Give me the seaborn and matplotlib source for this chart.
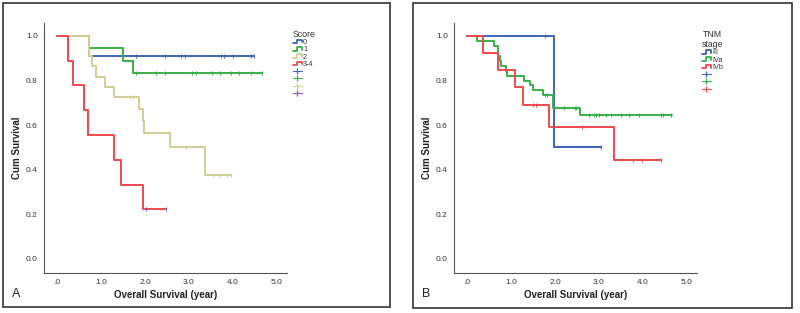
import numpy as np
import pandas as pd
import seaborn as sns
import matplotlib.pyplot as plt
from matplotlib.lines import Line2D
from matplotlib.patches import Rectangle
from matplotlib.legend_handler import HandlerBase

# ---- Panel A: Score ----
score_groups = ["0", "1", "2", "3-4"]
score_times = {
    "0": [0, 0.73, 4.49],
    "1": [0, 0.73, 1.50, 1.73, 4.66],
    "2": [0, 0.73, 0.80, 0.89, 1.09, 1.30, 1.87, 1.95, 1.98, 2.57, 3.36, 3.95],
    "3-4": [0, 0.25, 0.35, 0.61, 0.70, 1.30, 1.45, 1.95, 2.48],
}
score_surv = {
    "0": [1.0, 0.909, 0.909],
    "1": [1.0, 0.944, 0.889, 0.833, 0.833],
    "2": [1.0, 0.909, 0.864, 0.818, 0.773, 0.727, 0.673, 0.618, 0.564, 0.5, 0.375, 0.375],
    "3-4": [1.0, 0.889, 0.778, 0.667, 0.556, 0.444, 0.333, 0.222, 0.222],
}
score_censored = {
    "0": [1.80, 2.45, 2.82, 2.92, 3.73, 3.79, 3.99, 4.42, 4.48],
    "1": [1.80, 2.25, 2.45, 3.06, 3.17, 3.52, 3.70, 3.95, 4.14, 4.42, 4.65],
    "2": [1.66, 1.73, 2.93, 3.55, 3.70, 3.86, 3.95],
    "3-4": [2.03, 2.48],
}

# ---- Panel B: TNM stage ----
tnm_groups = ["III", "IVa", "IVb"]
tnm_times = {
    "III": [0, 1.98, 3.05],
    "IVa": [0, 0.22, 0.62, 0.70, 0.75, 0.78, 0.88, 0.90, 1.30, 1.42, 1.50, 1.72, 1.96, 2.57, 4.65],
    "IVb": [0, 0.36, 0.69, 1.09, 1.28, 1.86, 3.35, 4.41],
}
tnm_surv = {
    "III": [1.0, 0.5, 0.5],
    "IVa": [1.0, 0.978, 0.955, 0.911, 0.889, 0.867, 0.844, 0.822, 0.800, 0.778, 0.756, 0.733, 0.679, 0.645, 0.645],
    "IVb": [1.0, 0.923, 0.846, 0.769, 0.692, 0.593, 0.445, 0.445],
}
tnm_censored = {
    "III": [1.76, 3.05],
    "IVa": [1.77, 1.82, 2.21, 2.46, 2.48, 2.78, 2.89, 2.94, 3.00, 3.15, 3.27, 3.50, 3.69,
            3.92, 4.41, 4.46, 4.64],
    "IVb": [1.49, 1.57, 2.61, 3.77, 3.98, 4.41],
}

BLUE, GREEN, TAN, RED, PURPLE = "#3f63b8", "#3aaf48", "#d2ce98", "#ec4a4f", "#8e55b0"
score_colors = {"0": BLUE, "1": GREEN, "2": TAN, "3-4": RED}
score_cens_colors = {"0": BLUE, "1": GREEN, "2": TAN, "3-4": PURPLE}
tnm_colors = {"III": BLUE, "IVa": GREEN, "IVb": RED}

x_ticks = [0, 1, 2, 3, 4, 5]
x_labels = [".0", "1.0", "2.0", "3.0", "4.0", "5.0"]
y_ticks = [0, 0.2, 0.4, 0.6, 0.8, 1.0]
y_labels = ["0.0", "0.2", "0.4", "0.6", "0.8", "1.0"]


def long_frames(groups, times, surv, cens):
    curves, marks = [], []
    for g in groups:
        t = np.array(times[g]); s = np.array(surv[g])
        curves.append(pd.DataFrame({"time": t, "surv": s, "group": g}))
        c = np.array(cens[g])
        idx = np.searchsorted(t, c, side="right") - 1
        marks.append(pd.DataFrame({"time": c, "surv": s[idx], "group": g}))
    return pd.concat(curves), pd.concat(marks)


class HandlerStep(HandlerBase):
    # little step icon like the SPSS legend
    def create_artists(self, legend, orig, xd, yd, w, h, fontsize, trans):
        xs = [-xd, -xd + 0.45 * w, -xd + 0.45 * w, -xd + w, -xd + w]
        ys = [-yd + 0.1 * h, -yd + 0.1 * h, -yd + 0.9 * h, -yd + 0.9 * h, -yd + 0.3 * h]
        ln = Line2D(xs, ys, color=orig.get_color(), lw=1.3, transform=trans)
        return [ln]


sns.set_style("white")
plt.rcParams["font.family"] = ["Liberation Sans", "DejaVu Sans"]

fig = plt.figure(figsize=(8, 3.13), dpi=100)
W, H = 800, 313

# panel frames
for (x0, y0, x1, y1) in [(3, 3, 390, 307), (413, 3, 792, 308)]:
    fig.patches.append(Rectangle((x0 / W, 1 - y1 / H), (x1 - x0) / W, (y1 - y0) / H,
                                 transform=fig.transFigure, fill=False,
                                 edgecolor="#333333", lw=1.2))

panels = [
    (44, score_groups, score_times, score_surv, score_censored, score_colors,
     score_cens_colors, "Score", "A"),
    (454, tnm_groups, tnm_times, tnm_surv, tnm_censored, tnm_colors,
     tnm_colors, "TNM\nstage", "B"),
]

for left, groups, times, surv, cens, colors, ccolors, ltitle, letter in panels:
    ax = fig.add_axes([left / W, 1 - 273 / H, 243 / W, 250 / H])
    curves, marks = long_frames(groups, times, surv, cens)
    sns.lineplot(data=curves, x="time", y="surv", hue="group", palette=colors,
                 hue_order=groups, estimator=None, sort=False, drawstyle="steps-post",
                 lw=1.4, legend=False, ax=ax)
    for g in groups:
        sns.scatterplot(data=marks[marks["group"] == g], x="time", y="surv",
                        color=ccolors[g], marker="|", s=12, linewidth=0.7,
                        legend=False, ax=ax, zorder=3)

    ax.set_xlim(-0.3, 5.23)
    ax.set_ylim(-0.063, 1.058)
    ax.set_xticks(x_ticks, x_labels)
    ax.set_yticks(y_ticks, y_labels)
    for s in ["top", "right"]:
        ax.spines[s].set_visible(False)
    for s in ["left", "bottom"]:
        ax.spines[s].set_color("#555555")
        ax.spines[s].set_linewidth(0.8)
    ax.tick_params(axis="both", direction="out", length=3, width=0.7, color="#555555",
                   labelsize=6, labelcolor="#333333", pad=1.5)
    ax.set_xlabel("Overall Survival (year)", fontsize=7, fontweight="bold",
                  color="#222222", labelpad=3)
    ax.set_ylabel("Cum Survival", fontsize=7, fontweight="bold",
                  color="#222222", labelpad=3)

    handles = [Line2D([], [], color=colors[g]) for g in groups]
    labels = list(groups)
    handles += [Line2D([], [], color=ccolors[g], lw=0.8, marker="|", markersize=5,
                       markeredgewidth=0.9) for g in groups]
    labels += [""] * len(groups)
    hmap = {h: HandlerStep() for h in handles[:len(groups)]}
    shift = 245 if letter == "A" else 244
    leg = fig.legend(handles, labels, handler_map=hmap, title=ltitle,
                     loc="upper left",
                     bbox_to_anchor=((left + shift) / W, 1 - 26 / H),
                     frameon=False, fontsize=5.2, title_fontsize=6.3,
                     handlelength=1.3, handleheight=0.65, handletextpad=0.15,
                     labelspacing=0.05, borderpad=0, numpoints=1,
                     alignment="left")
    leg.get_title().set_color("#333333")
    leg.get_title().set_multialignment("center")
    for t in leg.get_texts():
        t.set_color("#333333")
    fig.text((left - 32) / W, 1 - 294 / H, letter, fontsize=9, color="#222222",
             ha="left", va="center")

fig.savefig("out.png", dpi=100)
